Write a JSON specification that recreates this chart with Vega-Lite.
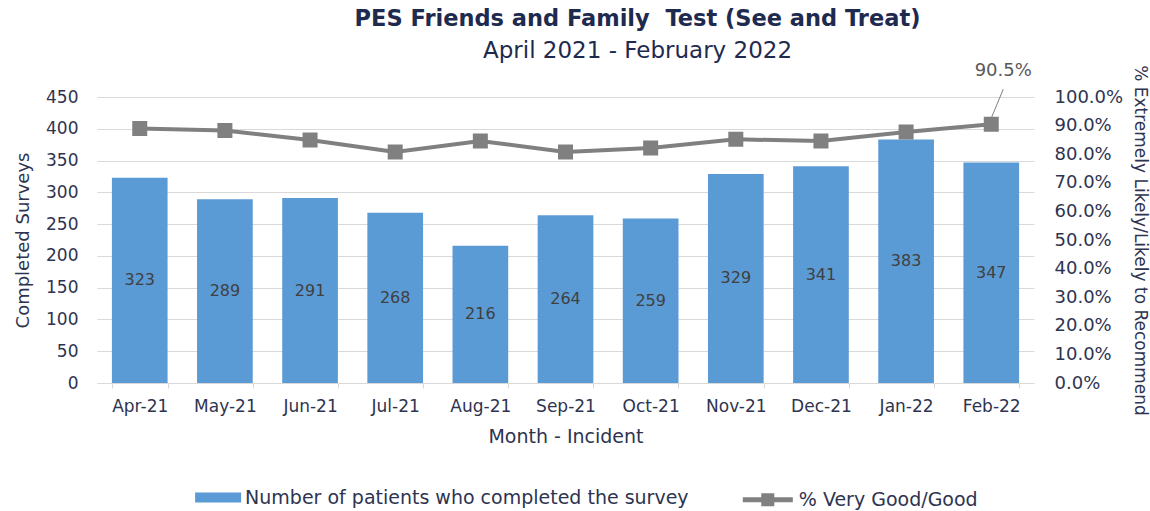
{
  "$schema": "https://vega.github.io/schema/vega-lite/v6.json",
  "width": 937,
  "height": 286,
  "autosize": "none",
  "padding": {"left": 97, "top": 97, "right": 116, "bottom": 128},
  "background": "white",
  "config": {
    "font": "DejaVu Sans",
    "view": {"stroke": null},
    "axis": {"labelFont": "DejaVu Sans", "titleFont": "DejaVu Sans", "labelColor": "#2E3450", "titleColor": "#2E3450", "titleFontWeight": "normal", "labelOverlap": false},
    "legend": {"labelFont": "DejaVu Sans", "labelColor": "#2E3450", "labelFontSize": 19, "labelLimit": 700, "padding": 0}
  },
  "title": {
    "text": "PES Friends and Family\u00a0 Test (See and Treat)",
    "subtitle": "April 2021 - February 2022",
    "anchor": "middle",
    "dx": 72,
    "offset": -1,
    "font": "DejaVu Sans",
    "fontSize": 22.5,
    "fontWeight": "bold",
    "color": "#1F2A4F",
    "subtitleFont": "DejaVu Sans",
    "subtitleFontSize": 23,
    "subtitleColor": "#1F2A4F",
    "subtitlePadding": 10
  },
  "data": {
    "values": [
      {"month": "Apr-21", "n": 323, "pct": 0.890},
      {"month": "May-21", "n": 289, "pct": 0.883},
      {"month": "Jun-21", "n": 291, "pct": 0.850},
      {"month": "Jul-21", "n": 268, "pct": 0.808},
      {"month": "Aug-21", "n": 216, "pct": 0.846},
      {"month": "Sep-21", "n": 264, "pct": 0.808},
      {"month": "Oct-21", "n": 259, "pct": 0.822},
      {"month": "Nov-21", "n": 329, "pct": 0.852},
      {"month": "Dec-21", "n": 341, "pct": 0.846},
      {"month": "Jan-22", "n": 383, "pct": 0.878},
      {"month": "Feb-22", "n": 347, "pct": 0.905}
    ]
  },
  "encoding": {
    "x": {
      "field": "month",
      "type": "nominal",
      "sort": null,
      "scale": {"paddingInner": 0.346, "paddingOuter": 0.175},
      "axis": {
        "title": "Month - Incident",
        "titleFontSize": 19,
        "titlePadding": 13,
        "labelAngle": 0,
        "labelFontSize": 17,
        "labelPadding": 10,
        "ticks": true,
        "tickBand": "extent",
        "tickSize": 5,
        "tickColor": "#D9D9D9",
        "domainColor": "#D9D9D9",
        "domainWidth": 1
      }
    }
  },
  "layer": [
    {
      "layer": [
        {
          "mark": {"type": "bar", "color": "#5B9BD5"},
          "encoding": {
            "y": {
              "field": "n",
              "type": "quantitative",
              "scale": {"domain": [0, 450]},
              "axis": {
                "title": "Completed Surveys",
                "titleFontSize": 18,
                "titlePadding": 13,
                "labelFontSize": 17,
                "labelPadding": 19,
                "values": [0, 50, 100, 150, 200, 250, 300, 350, 400, 450],
                "labelOverlap": false,
                "ticks": false,
                "domain": false,
                "grid": true,
                "gridColor": "#D9D9D9",
                "gridWidth": 1
              }
            },
            "fill": {
              "datum": "Number of patients who completed the survey",
              "scale": {"range": ["#5B9BD5"]},
              "legend": {
                "title": null,
                "orient": "none",
                "legendX": 105.6,
                "legendY": 385,
                "symbolType": "M-1.5,-0.33H1.5V0.33H-1.5Z",
                "symbolSize": 940,
                "symbolStrokeWidth": 0,
                "labelOffset": 11.5
              }
            }
          }
        },
        {
          "transform": [{"calculate": "datum.n / 2", "as": "mid"}],
          "mark": {"type": "text", "fontSize": 16, "color": "#404040", "font": "DejaVu Sans"},
          "encoding": {
            "y": {
              "field": "mid",
              "type": "quantitative",
              "scale": {"domain": [0, 450]},
              "axis": {
                "title": "Completed Surveys",
                "titleFontSize": 18,
                "titlePadding": 13,
                "labelFontSize": 17,
                "labelPadding": 19,
                "values": [0, 50, 100, 150, 200, 250, 300, 350, 400, 450],
                "labelOverlap": false,
                "ticks": false,
                "domain": false,
                "grid": true,
                "gridColor": "#D9D9D9",
                "gridWidth": 1
              }
            },
            "text": {"field": "n", "type": "quantitative"}
          }
        }
      ]
    },
    {
      "layer": [
        {
          "mark": {
            "type": "line",
            "strokeWidth": 4,
            "color": "#808080",
            "point": {"filled": true, "shape": "square", "size": 169, "color": "#808080"}
          },
          "encoding": {
            "y": {
              "field": "pct",
              "type": "quantitative",
              "scale": {"domain": [0, 1]},
              "axis": {
                "orient": "right",
                "title": "% Extremely Likely/Likely to Recommend",
                "titleFontSize": 17,
                "titlePadding": 8,
                "labelFontSize": 18,
                "labelPadding": 20,
                "format": ".1%",
                "values": [0, 0.1, 0.2, 0.3, 0.4, 0.5, 0.6, 0.7, 0.8, 0.9, 1.0],
                "labelOverlap": false,
                "ticks": false,
                "domain": false,
                "grid": false
              }
            },
            "stroke": {
              "datum": "% Very Good/Good",
              "scale": {"range": ["#808080"]},
              "legend": {
                "title": null,
                "orient": "none",
                "legendX": 651.3,
                "legendY": 383.3,
                "symbolType": "M-1.5,0H1.5M-0.24,-0.24H0.24V0.24H-0.24Z",
                "symbolSize": 1111,
                "symbolStrokeWidth": 5,
                "symbolFillColor": "#808080",
                "labelOffset": 11.5
              }
            }
          }
        },
        {
          "transform": [{"filter": "datum.month === 'Feb-22'"}],
          "mark": {"type": "rule", "color": "#808080", "strokeWidth": 1, "yOffset": -6, "y2Offset": -35, "x2Offset": 12},
          "encoding": {
            "y": {
              "field": "pct",
              "type": "quantitative",
              "scale": {"domain": [0, 1]},
              "axis": {
                "orient": "right",
                "title": "% Extremely Likely/Likely to Recommend",
                "titleFontSize": 17,
                "titlePadding": 8,
                "labelFontSize": 18,
                "labelPadding": 20,
                "format": ".1%",
                "values": [0, 0.1, 0.2, 0.3, 0.4, 0.5, 0.6, 0.7, 0.8, 0.9, 1.0],
                "labelOverlap": false,
                "ticks": false,
                "domain": false,
                "grid": false
              }
            },
            "y2": {"field": "pct"},
            "x2": {"field": "month"}
          }
        },
        {
          "transform": [{"filter": "datum.month === 'Feb-22'"}],
          "mark": {"type": "text", "fontSize": 18, "color": "#595959", "dy": -53, "dx": 12, "font": "DejaVu Sans"},
          "encoding": {
            "y": {
              "field": "pct",
              "type": "quantitative",
              "scale": {"domain": [0, 1]},
              "axis": {
                "orient": "right",
                "title": "% Extremely Likely/Likely to Recommend",
                "titleFontSize": 17,
                "titlePadding": 8,
                "labelFontSize": 18,
                "labelPadding": 20,
                "format": ".1%",
                "values": [0, 0.1, 0.2, 0.3, 0.4, 0.5, 0.6, 0.7, 0.8, 0.9, 1.0],
                "labelOverlap": false,
                "ticks": false,
                "domain": false,
                "grid": false
              }
            },
            "text": {"field": "pct", "type": "quantitative", "format": ".1%"}
          }
        }
      ]
    }
  ],
  "resolve": {"scale": {"y": "independent", "fill": "independent", "stroke": "independent"}}
}
